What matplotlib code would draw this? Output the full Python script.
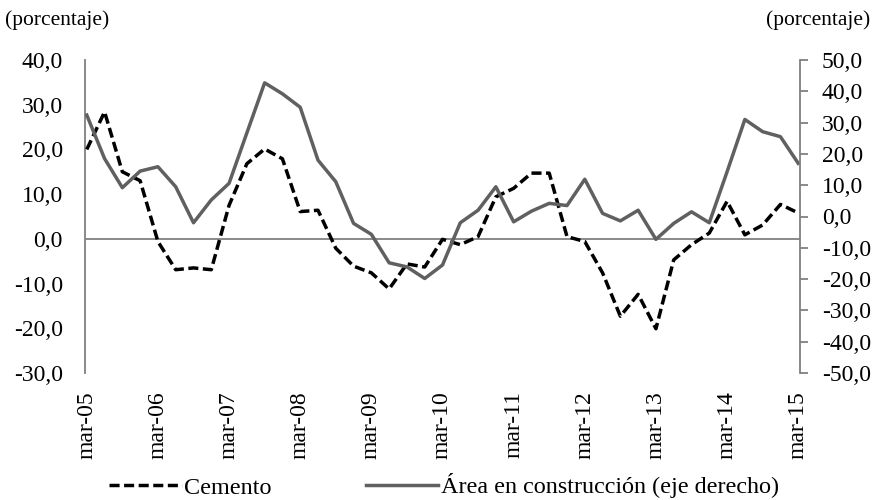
import numpy as np
import matplotlib
matplotlib.use("Agg")
import matplotlib.pyplot as plt
from matplotlib.lines import Line2D

plt.rcParams['font.family'] = ['Liberation Serif', 'DejaVu Serif']

# quarterly, mar-05 .. mar-15
quarters = np.arange(41)
tick_pos = np.arange(0, 41, 4)
tick_labels = ['mar-%02d' % y for y in range(5, 16)]

cemento = [20.0, 28.4, 15.0, 13.0, -0.6, -6.9, -6.5, -6.9, 7.5, 16.8,
           20.1, 17.9, 6.1, 6.4, -2.1, -6.1, -7.6, -11.2, -5.6, -6.3,
           -0.1, -1.3, 0.5, 9.4, 11.3, 14.7, 14.7, 0.5, -0.6, -7.6,
           -17.3, -12.4, -20.1, -4.7, -1.3, 1.3, 8.4, 0.9, 3.1, 7.7, 5.8]

area = [32.4, 18.5, 9.2, 14.5, 15.9, 9.5, -2.0, 5.3, 10.6, 26.7,
        42.7, 39.2, 34.9, 18.0, 11.1, -2.2, -5.7, -14.8, -16.1, -19.8,
        -15.5, -2.0, 2.0, 9.5, -1.7, 1.7, 4.2, 3.5, 11.9, 1.0,
        -1.4, 2.0, -7.3, -2.2, 1.5, -2.0, 14.3, 31.0, 27.1, 25.5, 17.0]

def fmt(v):
    return ('%.1f' % v).replace('.', ',')

fig = plt.figure(figsize=(8.78, 5), dpi=100)
ax = fig.add_axes([85/878, 1-373/500, (800-85)/878, (373-60)/500])
ax2 = ax.twinx()

gray = '#808080'
dash = (0, (2.9, 1.3))
ax.axhline(0, color=gray, lw=1.3, zorder=1)
ax.plot(quarters, cemento, color='black', lw=2.5,
        linestyle=dash, dash_capstyle='butt', zorder=3)
ax2.plot(quarters, area, color='#606060', lw=2.5, zorder=2)

ax.set_xlim(-0.1, 40.1)
ax.set_ylim(-30, 40)
ax2.set_ylim(-50, 50)

ax.set_yticks(np.arange(-30, 41, 10))
ax.set_yticklabels([fmt(v) for v in np.arange(-30, 41, 10)])
ax2.set_yticks(np.arange(-50, 51, 10))
ax2.set_yticklabels([fmt(v) for v in np.arange(-50, 51, 10)])

ax.set_xticks(tick_pos)
ax.set_xticklabels(tick_labels, rotation=90)

for a in (ax, ax2):
    for s in ('top', 'bottom'):
        a.spines[s].set_visible(False)
    a.spines['left'].set_color(gray)
    a.spines['right'].set_color(gray)
    a.spines['left'].set_linewidth(1.3)
    a.spines['right'].set_linewidth(1.3)
ax.spines['right'].set_visible(False)
ax2.spines['left'].set_visible(False)

ax.tick_params(axis='y', length=0, labelsize=17, pad=16)
ax2.tick_params(axis='y', direction='out', length=5.8, width=1.3, color=gray,
                labelsize=17, pad=10)
ax.tick_params(axis='x', length=0, labelsize=17, pad=13)

fig.text(5/878, 1-20/500, '(porcentaje)', fontsize=15.5, va='center', ha='left')
fig.text(870/878, 1-20/500, '(porcentaje)', fontsize=15.5, va='center', ha='right')

handles = [Line2D([], [], color='black', lw=2.5, linestyle=dash, dash_capstyle='butt'),
           Line2D([], [], color='#606060', lw=2.5)]
fig.legend(handles, ['Cemento', 'Área en construcción (eje derecho)'],
           loc='center', bbox_to_anchor=(444/878, 1-486/500), ncol=2, frameon=False,
           fontsize=17.4, handlelength=3.0, handletextpad=0.1, columnspacing=3.9,
           borderpad=0, borderaxespad=0)

fig.savefig('out.png', dpi=100)
